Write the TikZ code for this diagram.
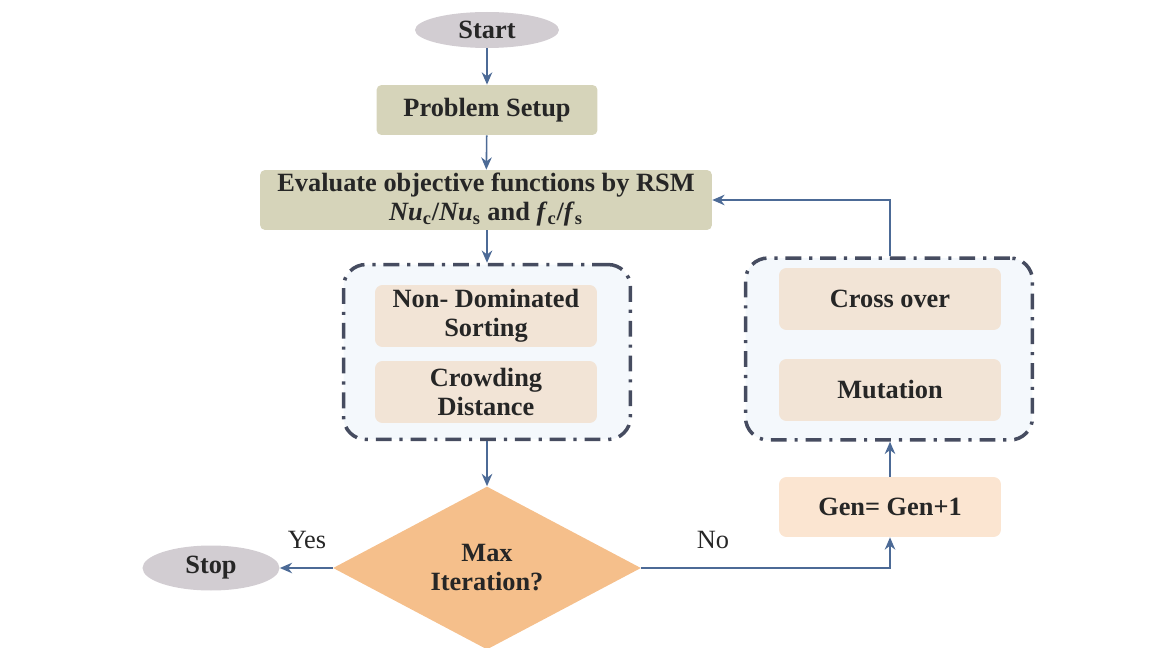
\documentclass[tikz,border=0pt]{standalone}
\usepackage{fontspec}
\setmainfont{Liberation Serif}
\usetikzlibrary{shapes.geometric,arrows.meta}

\definecolor{termgray}{RGB}{210,205,210}
\definecolor{khaki}{RGB}{214,212,186}
\definecolor{grpfill}{RGB}{244,248,252}
\definecolor{grpline}{RGB}{70,76,96}
\definecolor{stepfill}{RGB}{242,228,214}
\definecolor{genfill}{RGB}{251,229,209}
\definecolor{decfill}{RGB}{245,191,139}
\definecolor{flowline}{RGB}{76,106,150}

\tikzset{
  lbl/.style={font=\fontsize{15}{16.5}\selectfont, text=black!85},
  bold/.style={lbl, font=\bfseries\fontsize{15}{16.5}\selectfont, align=center},
  term/.style={bold, ellipse, fill=termgray, inner sep=0pt},
  khakibox/.style={bold, rectangle, rounded corners=0.1cm, fill=khaki, inner sep=0pt},
  stepbox/.style={bold, rectangle, rounded corners=0.15cm, fill=stepfill, inner sep=0pt,
    minimum width=4.44cm, minimum height=1.24cm},
  grpbox/.style={rectangle, rounded corners=0.45cm, draw=grpline, fill=grpfill, line width=2pt,
    dash pattern=on 9pt off 4.5pt on 1.8pt off 4.5pt, minimum width=5.74cm},
  flow/.style={->, draw=flowline, line width=0.9pt},
}

\begin{document}
\begin{tikzpicture}[>={Stealth[length=7pt,width=6pt]}, x=0.02cm, y=-0.02cm]
  \useasboundingbox (0,0) rectangle (1165,648);
  % terminals and main column
  \node[term, minimum width=2.88cm, minimum height=0.72cm] (start) at (487,30) {Start};
  \node[khakibox, minimum width=4.42cm, minimum height=1.0cm] (setup) at (487,110) {Problem Setup};
  \node[khakibox, minimum width=9.04cm, minimum height=1.2cm] (evaluate) at (486,200)
    {Evaluate objective functions by RSM\\
     \textit{Nu}\textsubscript{c}/\textit{Nu}\textsubscript{s} and \textit{f}\textsubscript{c}/\textit{f}\textsubscript{s}};
  % sorting group
  \node[grpbox, minimum height=3.5cm] (sortgrp) at (487,352) {};
  \node[stepbox] (nds) at (486,316) {Non- Dominated\\Sorting};
  \node[stepbox] (crowd) at (486,392) {Crowding\\Distance};
  % decision
  \node[bold, diamond, fill=decfill, minimum width=6.16cm, minimum height=3.26cm, inner sep=0pt] (maxit) at (487,568) {Max\\Iteration?};
  \node[term, minimum width=2.74cm, minimum height=0.9cm] (stop) at (211,568) {Stop};
  % genetic operators
  \node[grpbox, minimum height=3.64cm] (gagrp) at (889,349) {};
  \node[stepbox] (cross) at (890,299) {Cross over};
  \node[stepbox] (mutation) at (890,390) {Mutation};
  \node[stepbox, fill=genfill, minimum height=1.2cm] (gen) at (890,507) {Gen= Gen+1};
  % connectors
  \draw[flow] (start) -- (setup);
  \draw[flow] (setup) -- (evaluate);
  \draw[flow] (evaluate.south -| sortgrp.north) -- (sortgrp.north);
  \draw[flow] (sortgrp.south) -- (maxit.north);
  \draw[flow] (maxit.west) -- (stop.east);
  \draw[flow] (maxit.east) -| (gen.south);
  \draw[flow] (gen.north) -- (gen.north |- gagrp.south);
  \draw[flow] (gen.north |- gagrp.north) |- (evaluate.east);
  \node[lbl] (yes) at (307,540) {Yes};
  \node[lbl] (no) at (713,540) {No};
\end{tikzpicture}
\end{document}
